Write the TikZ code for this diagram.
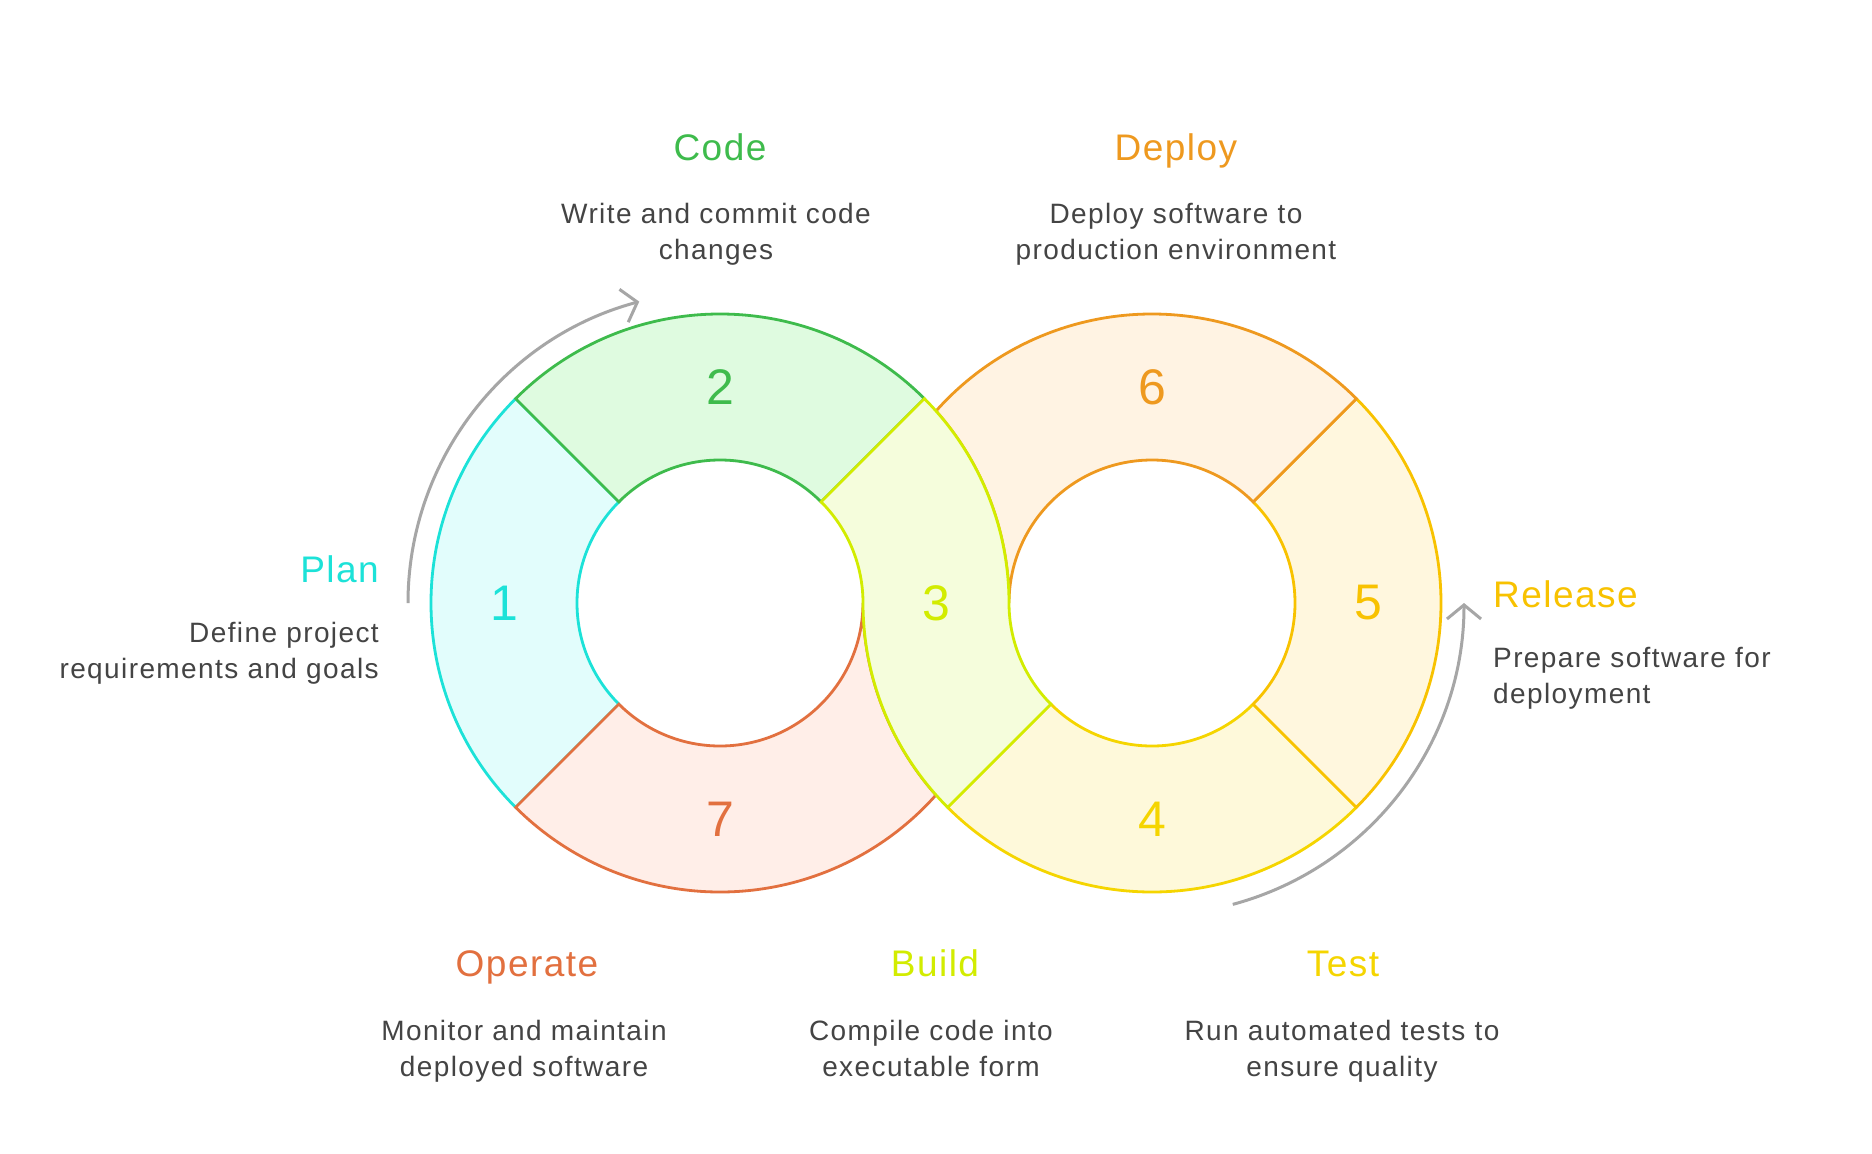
\documentclass[tikz,border=0pt]{standalone}
\usepackage{fontspec}
\setmainfont{Liberation Sans}
\newfontfamily\ttlfont[LetterSpace=4]{Liberation Sans}
\newfontfamily\dscfont[LetterSpace=5]{Liberation Sans}
\usetikzlibrary{arrows.meta}
\definecolor{cPlan}{HTML}{1CE2D8}\definecolor{fPlan}{HTML}{E2FDFC}
\definecolor{cCode}{HTML}{3EBB4C}\definecolor{fCode}{HTML}{DFFBE0}
\definecolor{cBuild}{HTML}{D2EC00}\definecolor{fBuild}{HTML}{F5FDDC}
\definecolor{cTest}{HTML}{F5D500}\definecolor{fTest}{HTML}{FEF9DA}
\definecolor{cRelease}{HTML}{F8C200}\definecolor{fRelease}{HTML}{FFF7DE}
\definecolor{cDeploy}{HTML}{EE991F}\definecolor{fDeploy}{HTML}{FFF3E3}
\definecolor{cOperate}{HTML}{E2703F}\definecolor{fOperate}{HTML}{FFEEE8}
\definecolor{txt}{HTML}{444444}
\definecolor{arr}{HTML}{A6A6A6}
\begin{document}
\begin{tikzpicture}[x=1pt,y=1pt,
  seg/.style={line width=2.8pt},
  num/.style={inner sep=0pt,font=\fontsize{50}{50}\selectfont},
  ttl/.style={inner sep=0pt,anchor=base,font=\ttlfont\fontsize{37}{40}\selectfont},
  dsc/.style={inner sep=0pt,anchor=base,text=txt,align=center,font=\dscfont\fontsize{28}{36}\selectfont},
  cyc/.style={draw=arr,line width=3pt,-{Straight Barb[length=14pt,width=34pt]}}]
\useasboundingbox (0,0) rectangle (1872,-1154);
\fill[white] (0,0) rectangle (1872,-1154);
\coordinate (L) at (720,-603);
\coordinate (R) at (1152,-603);
% 1 Plan
\draw[seg,draw=cPlan,fill=fPlan] ([shift={(135:289)}]L) arc[start angle=135,end angle=225,radius=289]
  -- ([shift={(225:143)}]L) arc[start angle=225,end angle=135,radius=143] -- cycle;
% 2 Code
\draw[seg,draw=cCode,fill=fCode] ([shift={(45:289)}]L) arc[start angle=45,end angle=135,radius=289]
  -- ([shift={(135:143)}]L) arc[start angle=135,end angle=45,radius=143] -- cycle;
% 7 Operate
\draw[seg,draw=cOperate,fill=fOperate] ([shift={(225:289)}]L) arc[start angle=225,end angle=318.366,radius=289]
  arc[start angle=221.634,end angle=180,radius=289]
  arc[start angle=360,end angle=225,radius=143] -- cycle;
% 4 Test
\draw[seg,draw=cTest,fill=fTest] ([shift={(225:289)}]R) arc[start angle=225,end angle=315,radius=289]
  -- ([shift={(315:143)}]R) arc[start angle=315,end angle=225,radius=143] -- cycle;
% 5 Release
\draw[seg,draw=cRelease,fill=fRelease] ([shift={(-45:289)}]R) arc[start angle=-45,end angle=45,radius=289]
  -- ([shift={(45:143)}]R) arc[start angle=45,end angle=-45,radius=143] -- cycle;
% 6 Deploy
\draw[seg,draw=cDeploy,fill=fDeploy] ([shift={(45:289)}]R) arc[start angle=45,end angle=138.366,radius=289]
  arc[start angle=41.634,end angle=0,radius=289]
  arc[start angle=180,end angle=45,radius=143] -- cycle;
% 3 Build
\draw[seg,draw=cBuild,fill=fBuild] ([shift={(45:289)}]L) -- ([shift={(45:143)}]L)
  arc[start angle=45,end angle=0,radius=143]
  arc[start angle=180,end angle=225,radius=289]
  -- ([shift={(225:143)}]R) arc[start angle=225,end angle=180,radius=143]
  arc[start angle=0,end angle=45,radius=289] -- cycle;
% numbers
\node[num,text=cPlan] (n1) at ([shift={(180:216)}]L) {1};
\node[num,text=cCode] (n2) at ([shift={(90:216)}]L) {2};
\node[num,text=cBuild] (n3) at (936,-603) {3};
\node[num,text=cTest] (n4) at ([shift={(270:216)}]R) {4};
\node[num,text=cRelease] (n5) at ([shift={(0:216)}]R) {5};
\node[num,text=cDeploy] (n6) at ([shift={(90:216)}]R) {6};
\node[num,text=cOperate] (n7) at ([shift={(270:216)}]L) {7};
% cycle arrows
\draw[cyc] ([shift={(180:312)}]L) arc[start angle=180,end angle=105,radius=312];
\draw[cyc] ([shift={(-75:312)}]R) arc[start angle=-75,end angle=0,radius=312];
% labels (multi-line base anchor = last line)
\node[ttl,text=cCode] (tCode) at (720,-160) {Code};
\node[dsc] (dCode) at (716,-259) {Write and commit code\\changes};
\node[ttl,text=cDeploy] (tDeploy) at (1176,-160) {Deploy};
\node[dsc] (dDeploy) at (1176,-259) {Deploy software to\\production environment};
\node[ttl,text=cPlan,anchor=base east] (tPlan) at (379,-582) {Plan};
\node[dsc,anchor=base east,align=right] (dPlan) at (379,-678) {Define project\\requirements and goals};
\node[ttl,text=cRelease,anchor=base west] (tRelease) at (1493,-607) {Release};
\node[dsc,anchor=base west,align=left] (dRelease) at (1493,-703) {Prepare software for\\deployment};
\node[ttl,text=cOperate] (tOperate) at (527,-976) {Operate};
\node[dsc] (dOperate) at (524,-1076) {Monitor and maintain\\deployed software};
\node[ttl,text=cBuild] (tBuild) at (935,-976) {Build};
\node[dsc] (dBuild) at (931,-1076) {Compile code into\\executable form};
\node[ttl,text=cTest] (tTest) at (1343,-976) {Test};
\node[dsc] (dTest) at (1342,-1076) {Run automated tests to\\ensure quality};
\end{tikzpicture}
\end{document}
